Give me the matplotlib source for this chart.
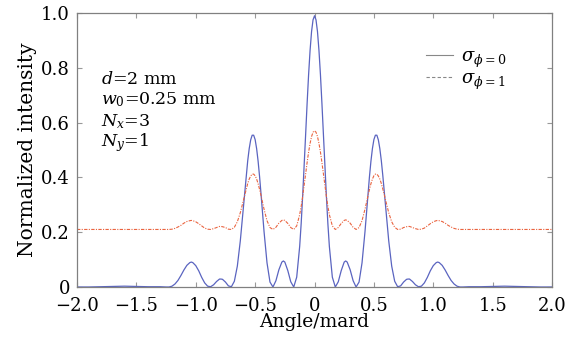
import matplotlib
matplotlib.use("Agg")
import matplotlib.pyplot as plt
from matplotlib.lines import Line2D

plt.rcParams['font.family'] = ['DejaVu Serif']
plt.rcParams['mathtext.fontset'] = 'dejavuserif'
plt.rcParams['axes.unicode_minus'] = True

angle = [-2.0, -1.9, -1.8, -1.7, -1.6, -1.5, -1.4, -1.3,
         -1.25, -1.225, -1.2, -1.175, -1.15, -1.125, -1.1, -1.075, -1.05, -1.0375, -1.025,
         -1.0, -0.975, -0.95, -0.925, -0.9, -0.875, -0.85, -0.825, -0.8, -0.7875, -0.775,
         -0.75, -0.725, -0.7, -0.675, -0.65, -0.625, -0.6, -0.5875, -0.575, -0.5625, -0.55,
         -0.5375, -0.525, -0.5125, -0.5, -0.4875, -0.475, -0.4625, -0.45, -0.425, -0.4,
         -0.375, -0.35, -0.325, -0.3, -0.275, -0.2625, -0.25, -0.225, -0.2, -0.175,
         -0.15, -0.125, -0.1125, -0.1, -0.0875, -0.075, -0.0625, -0.05, -0.0375, -0.025,
         -0.0125, 0.0, 0.0125,
         0.025, 0.0375, 0.05, 0.0625, 0.075, 0.0875, 0.1, 0.1125, 0.125, 0.15,
         0.175, 0.2, 0.225, 0.25, 0.2625, 0.275, 0.3, 0.325, 0.35, 0.375,
         0.4, 0.425, 0.45, 0.4625, 0.475, 0.4875, 0.5, 0.5125, 0.525, 0.5375,
         0.55, 0.5625, 0.575, 0.5875, 0.6, 0.625, 0.65, 0.675, 0.7, 0.725,
         0.75, 0.775, 0.7875, 0.8, 0.825, 0.85, 0.875, 0.9, 0.925, 0.95, 0.975, 1.0,
         1.025, 1.0375, 1.05, 1.075, 1.1, 1.125, 1.15, 1.175, 1.2, 1.225, 1.25,
         1.3, 1.4, 1.5, 1.6, 1.7, 1.8, 1.9, 2.0]

sigma_phi0 = [0.000, 0.000, 0.001, 0.002, 0.003, 0.002, 0.001, 0.001,
              0.000, 0.000, 0.003, 0.011, 0.024, 0.042, 0.062, 0.079, 0.089, 0.091, 0.089,
              0.078, 0.059, 0.035, 0.015, 0.003, 0.001, 0.008, 0.020, 0.029, 0.029, 0.028,
              0.018, 0.004, 0.001, 0.021, 0.076, 0.168, 0.286, 0.348, 0.407, 0.461, 0.505,
              0.537, 0.554, 0.554, 0.538, 0.505, 0.459, 0.402, 0.337, 0.202, 0.088,
              0.018, 0.000, 0.023, 0.063, 0.091, 0.095, 0.091, 0.060, 0.019, 0.000,
              0.036, 0.148, 0.231, 0.331, 0.440, 0.555, 0.669, 0.774, 0.863, 0.932,
              0.975, 0.990, 0.975,
              0.932, 0.863, 0.774, 0.669, 0.555, 0.440, 0.331, 0.231, 0.148, 0.036,
              0.000, 0.019, 0.060, 0.091, 0.095, 0.091, 0.063, 0.023, 0.000, 0.018,
              0.088, 0.202, 0.337, 0.402, 0.459, 0.505, 0.538, 0.554, 0.554, 0.537,
              0.505, 0.461, 0.407, 0.348, 0.286, 0.168, 0.076, 0.021, 0.001, 0.004,
              0.018, 0.028, 0.029, 0.029, 0.020, 0.008, 0.001, 0.003, 0.015, 0.035, 0.059, 0.078,
              0.089, 0.091, 0.089, 0.079, 0.062, 0.042, 0.024, 0.011, 0.003, 0.000, 0.000,
              0.001, 0.001, 0.002, 0.003, 0.002, 0.001, 0.000, 0.000]

sigma_phi1 = [0.210, 0.210, 0.210, 0.210, 0.210, 0.210, 0.210, 0.210,
              0.210, 0.210, 0.211, 0.214, 0.219, 0.225, 0.233, 0.239, 0.242, 0.243, 0.242,
              0.238, 0.231, 0.223, 0.215, 0.211, 0.210, 0.213, 0.217, 0.221, 0.221, 0.220,
              0.217, 0.211, 0.210, 0.218, 0.238, 0.271, 0.314, 0.337, 0.358, 0.378, 0.394,
              0.405, 0.412, 0.412, 0.406, 0.394, 0.377, 0.356, 0.333, 0.284, 0.242,
              0.217, 0.210, 0.218, 0.233, 0.243, 0.245, 0.243, 0.232, 0.217, 0.210,
              0.223, 0.264, 0.294, 0.330, 0.370, 0.412, 0.454, 0.492, 0.524, 0.549,
              0.565, 0.570, 0.565,
              0.549, 0.524, 0.492, 0.454, 0.412, 0.370, 0.330, 0.294, 0.264, 0.223,
              0.210, 0.217, 0.232, 0.243, 0.245, 0.243, 0.233, 0.218, 0.210, 0.217,
              0.242, 0.284, 0.333, 0.356, 0.377, 0.394, 0.406, 0.412, 0.412, 0.405,
              0.394, 0.378, 0.358, 0.337, 0.314, 0.271, 0.238, 0.218, 0.210, 0.211,
              0.217, 0.220, 0.221, 0.221, 0.217, 0.213, 0.210, 0.211, 0.215, 0.223, 0.231, 0.238,
              0.242, 0.243, 0.242, 0.239, 0.233, 0.225, 0.219, 0.214, 0.211, 0.210, 0.210,
              0.210, 0.210, 0.210, 0.210, 0.210, 0.210, 0.210, 0.210]

xticks = [-2.0, -1.5, -1.0, -0.5, 0.0, 0.5, 1.0, 1.5, 2.0]
xtick_labels = ['\u22122.0', '\u22121.5', '\u22121.0', '\u22120.5', '0', '0.5', '1.0', '1.5', '2.0']
yticks = [0.0, 0.2, 0.4, 0.6, 0.8, 1.0]
ytick_labels = ['0', '0.2', '0.4', '0.6', '0.8', '1.0']

fig = plt.figure(figsize=(5.73, 3.38), dpi=100)
ax = fig.add_axes([0.1344, 0.1509, 0.829, 0.8106])

ax.plot(angle, sigma_phi0, color='#5a64c0', lw=0.9)
ax.plot(angle, sigma_phi1, color='#ea6440', lw=0.8, ls=(0, (3, 1.2, 1, 1.2)))

ax.set_xlim(-2.0, 2.0)
ax.set_ylim(0, 1.0)
ax.set_xticks(xticks)
ax.set_xticklabels(xtick_labels)
ax.set_yticks(yticks)
ax.set_yticklabels(ytick_labels)
ax.tick_params(direction='in', top=True, right=True, length=3.5, width=0.8,
               color='#999999', labelsize=13)
ax.tick_params(axis='x', pad=7)
ax.tick_params(axis='y', pad=5)
for s in ax.spines.values():
    s.set_color('#808080')
    s.set_linewidth(0.9)

ax.set_xlabel('Angle/mard', fontsize=13.5, labelpad=-1)
ax.set_ylabel('Normalized intensity', fontsize=14.5, labelpad=3)

ax.text(0.05, 0.759, '$d$=2 mm', transform=ax.transAxes, fontsize=12.5, va='center')
ax.text(0.05, 0.682, '$w_0$=0.25 mm', transform=ax.transAxes, fontsize=12.5, va='center')
ax.text(0.05, 0.604, '$N_x$=3', transform=ax.transAxes, fontsize=12.5, va='center')
ax.text(0.05, 0.526, '$N_y$=1', transform=ax.transAxes, fontsize=12.5, va='center')

handles = [Line2D([0], [0], color='#888888', lw=0.8),
           Line2D([0], [0], color='#888888', lw=0.8, ls=(0, (3, 2)))]
ax.legend(handles, [r'$\sigma_{\phi=0}$', r'$\sigma_{\phi=1}$'], loc='upper right',
          bbox_to_anchor=(0.93, 0.92), frameon=False, fontsize=13,
          handlelength=1.5, handletextpad=0.4, labelspacing=0.0,
          borderpad=0.2)

fig.savefig('out.png', dpi=100, facecolor='white')
